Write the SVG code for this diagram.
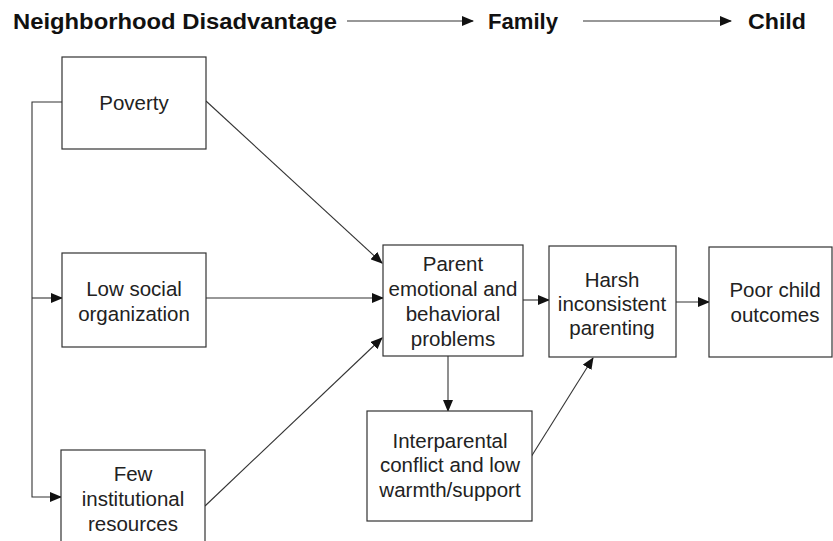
<svg xmlns="http://www.w3.org/2000/svg" width="833" height="541" viewBox="0 0 833 541">
<style>
.box{fill:#fff;stroke:#333;stroke-width:1.2}
.t{font-family:"Liberation Sans",Arial,sans-serif;font-size:20.5px;fill:#222;text-anchor:middle}
.h{font-family:"Liberation Sans",Arial,sans-serif;font-size:22px;font-weight:bold;fill:#111}
.c{fill:none;stroke:#333;stroke-width:1.1}
</style>
<defs>
<marker id="ah" markerWidth="12" markerHeight="10" refX="11" refY="5" orient="auto" markerUnits="userSpaceOnUse">
<path d="M0,0 L12,5 L0,10 Z" fill="#111"/>
</marker>
</defs>
<rect width="833" height="541" fill="#fff"/>
<g id="header">
<text class="h" x="13" y="29" textLength="324" lengthAdjust="spacingAndGlyphs">Neighborhood Disadvantage</text>
<text class="h" x="488" y="29" textLength="70" lengthAdjust="spacingAndGlyphs">Family</text>
<text class="h" x="748" y="29" textLength="58" lengthAdjust="spacingAndGlyphs">Child</text>
</g>
<g id="connectors">
<line class="c" x1="347" y1="21" x2="473" y2="21" marker-end="url(#ah)"/>
<line class="c" x1="583" y1="21" x2="731" y2="21" marker-end="url(#ah)"/>
<polyline class="c" points="62,102 32,102 32,497 61,497" marker-end="url(#ah)"/>
<line class="c" x1="32" y1="298" x2="62" y2="298" marker-end="url(#ah)"/>
<line class="c" x1="206" y1="101" x2="382" y2="263" marker-end="url(#ah)"/>
<line class="c" x1="206" y1="298" x2="383" y2="298" marker-end="url(#ah)"/>
<line class="c" x1="205" y1="506" x2="382" y2="338" marker-end="url(#ah)"/>
<line class="c" x1="523" y1="300" x2="549" y2="300" marker-end="url(#ah)"/>
<line class="c" x1="676" y1="302" x2="709" y2="302" marker-end="url(#ah)"/>
<line class="c" x1="448" y1="356" x2="448" y2="411" marker-end="url(#ah)"/>
<line class="c" x1="531" y1="457" x2="593" y2="358" marker-end="url(#ah)"/>
</g>
<g id="poverty">
<rect class="box" x="62" y="57" width="144" height="92"/>
<text class="t" x="134" y="110">Poverty</text>
</g>
<g id="lowsocial">
<rect class="box" x="62" y="253" width="144" height="94"/>
<text class="t" x="134" y="296">Low social</text>
<text class="t" x="134" y="321">organization</text>
</g>
<g id="few">
<rect class="box" x="61" y="450" width="144" height="100"/>
<text class="t" x="133" y="481">Few</text>
<text class="t" x="133" y="506">institutional</text>
<text class="t" x="133" y="531">resources</text>
</g>
<g id="parent">
<rect class="box" x="383" y="245" width="140" height="111"/>
<text class="t" x="453" y="271">Parent</text>
<text class="t" x="453" y="296">emotional and</text>
<text class="t" x="453" y="321">behavioral</text>
<text class="t" x="453" y="346">problems</text>
</g>
<g id="harsh">
<rect class="box" x="549" y="246" width="127" height="111"/>
<text class="t" x="612" y="287">Harsh</text>
<text class="t" x="612" y="311">inconsistent</text>
<text class="t" x="612" y="335">parenting</text>
</g>
<g id="poorchild">
<rect class="box" x="709" y="247" width="123" height="110"/>
<text class="t" x="775" y="297">Poor child</text>
<text class="t" x="775" y="322">outcomes</text>
</g>
<g id="interparental">
<rect class="box" x="367" y="411" width="165" height="110"/>
<text class="t" x="450" y="448">Interparental</text>
<text class="t" x="450" y="472">conflict and low</text>
<text class="t" x="450" y="497">warmth/support</text>
</g>
</svg>
